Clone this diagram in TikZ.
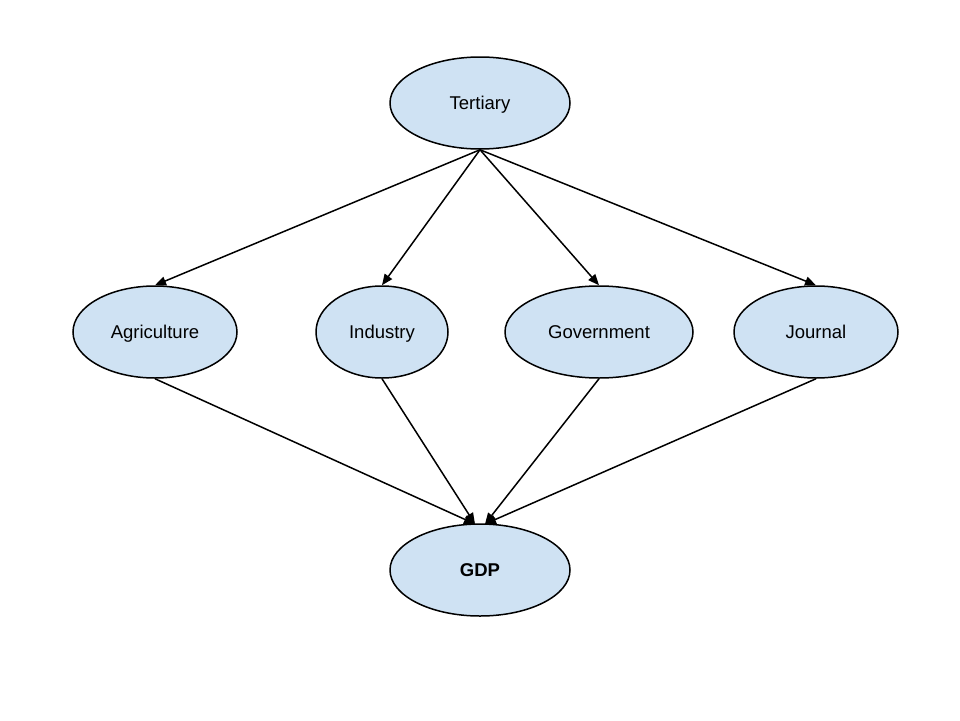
\documentclass[tikz,border=0pt]{standalone}
\usepackage{fontspec}
\setmainfont{Liberation Sans}
\usetikzlibrary{shapes.geometric,arrows.meta}
\begin{document}
\begin{tikzpicture}[x=1pt,y=-1pt,
  ell/.style={ellipse,draw=black,line width=1.5pt,fill=blue0,inner sep=0pt,font=\fontsize{18.5}{22}\selectfont,text height=13.2pt,text depth=0pt},
  conn/.style={line width=1.5pt,-{Triangle[length=11pt,width=9pt]}}]
\definecolor{blue0}{HTML}{CFE2F3}
\useasboundingbox (0,0) rectangle (960,720);
\fill[white] (0,0) rectangle (960,720);
\node[ell,minimum width=180pt,minimum height=92pt] (t) at (480,103) {Tertiary};
\node[ell,minimum width=164pt,minimum height=92pt] (a) at (155,332) {Agriculture};
\node[ell,minimum width=132pt,minimum height=92pt] (i) at (382,332) {Industry};
\node[ell,minimum width=188pt,minimum height=92pt] (g) at (599,332) {Government};
\node[ell,minimum width=164pt,minimum height=92pt] (j) at (816,332) {Journal};
\node[ell,minimum width=180pt,minimum height=92pt,font=\fontsize{18.5}{22}\selectfont\bfseries] (d) at (480,570) {GDP};
\coordinate (d1) at (475,524);
\coordinate (d2) at (485,524);
\foreach \n in {a,i,g,j} \draw[conn] (t.south) -- (\n.north);
\draw[conn] (a.south) -- (d1);
\draw[conn] (i.south) -- (d1);
\draw[conn] (g.south) -- (d2);
\draw[conn] (j.south) -- (d2);
\end{tikzpicture}
\end{document}
